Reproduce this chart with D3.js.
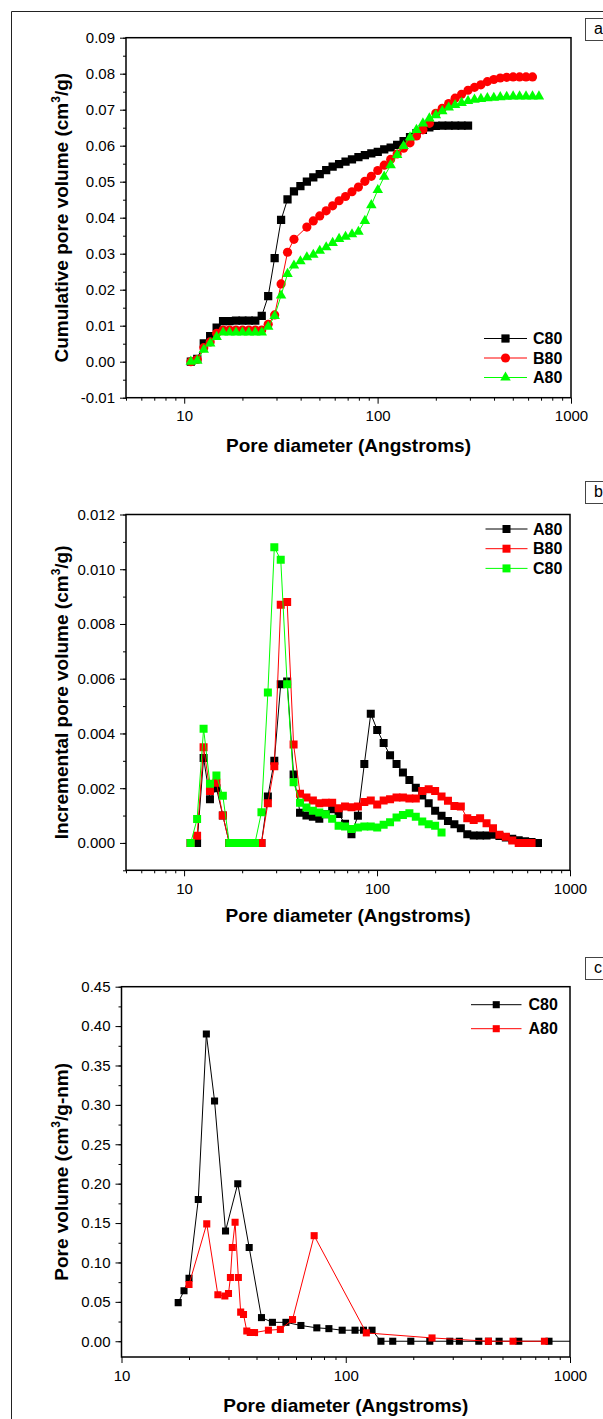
<!DOCTYPE html>
<html><head><meta charset="utf-8">
<script src="https://cdn.jsdelivr.net/npm/d3@7/dist/d3.min.js"></script>
<style>
body{margin:0;background:#fff}
svg{display:block}
</style>
</head><body>
<svg id="fig" width="603" height="1419"></svg>
<script>
// ---------------- DATA ----------------
// Pore diameters (Angstroms) used by panels a and b
const diamAB = [10.82,11.68,12.62,13.62,14.71,15.88,17.15,18.52,20.00,21.59,23.31,25.17,27.18,29.35,31.69,34.21,36.94,39.89,43.07,46.50,50.21,54.22,58.54,63.22,68.26,73.70,79.59,85.93,92.79,100.2,108.2,116.8,126.2,136.2,147.1,158.8,171.5,185.2,200.0,215.9,233.1,251.7,271.8,293.5,316.9,342.1,369.4,398.9,430.7,465.0,502.1,542.2,585.4,632.2,682.6];

// Panel a: cumulative pore volume (cm3/g)
const cumC80 = [0,0.0008,0.0051,0.0071,0.0095,0.0113,0.0113,0.0114,0.0114,0.0114,0.0114,0.0127,0.0182,0.0288,0.0394,0.0451,0.0473,0.0488,0.0500,0.0512,0.0521,0.0532,0.0542,0.0549,0.0556,0.0562,0.0568,0.0574,0.0579,0.0583,0.0590,0.0595,0.0602,0.0613,0.0624,0.0635,0.0644,0.0651,0.0655,0.0656,0.0656,0.0656,0.0656,0.0656];
const cumB80 = [0,0.0006,0.0039,0.0055,0.0079,0.0088,0.0088,0.0088,0.0088,0.0088,0.0088,0.0088,0.0104,0.0130,0.0216,0.0304,0.0340,null,0.0374,0.0391,0.0405,0.0419,0.0433,0.0447,0.0459,0.0472,0.0485,0.0501,0.0515,0.0531,0.0546,0.0562,0.0577,0.0593,0.0608,0.0627,0.0644,0.0662,0.0690,0.0704,0.0717,0.0732,0.0743,0.0754,0.0762,0.0769,0.0778,0.0784,0.0788,0.0790,0.0791,0.0791,0.0791,0.0791];
const cumA80 = [0,0.0003,0.0033,0.0051,0.0069,0.0081,0.0081,0.0081,0.0081,0.0081,0.0081,0.0081,0.0097,0.0127,0.0184,0.0244,0.0267,0.0279,0.0290,0.0297,0.0308,0.0318,0.0330,0.0341,0.0347,0.0354,0.0361,0.0391,0.0435,0.0477,0.0514,0.0546,0.0574,0.0599,0.0623,0.0644,0.0662,0.0676,0.0685,0.0696,0.0706,0.0713,0.0719,0.0724,0.0728,0.0730,0.0732,0.0733,0.0735,0.0736,0.0737,0.0737,0.0737,0.0737,0.0737];

// Panel b: incremental pore volume (cm3/g)
const incA80 = [0,0,0.0031,0.0016,0.0020,0.0010,0,0,0,0,0,0,0.0017,0.0030,0.0058,0.0059,0.0025,0.0011,0.0010,0.00096,0.00088,0.00105,0.00123,0.00106,0.0007,0.00032,0.00099,0.00288,0.00472,0.00413,0.00365,0.0032,0.00288,0.00257,0.0023,0.00202,0.00173,0.00145,0.00118,0.00099,0.0008,0.00068,0.00054,0.00032,0.00027,0.00027,0.00027,0.0003,0.00025,0.0002,0.00015,0.0001,0.00006,0.00003,0];
const incB80 = [0,0.00026,0.0035,0.0019,0.0022,0.0010,0,0,0,0,0,0,0.00145,0.0028,0.0087,0.0088,0.0036,0.0018,0.00166,0.00155,0.00145,0.00147,0.00147,0.00127,0.00133,0.0013,0.00133,0.0015,0.00155,0.0014,0.00155,0.0016,0.00166,0.00166,0.00162,0.00162,0.0019,0.00196,0.0019,0.0017,0.00154,0.00135,0.00133,0.0009,0.00084,0.0009,0.00072,0.00054,0.0003,0.00023,0.00009,0,0,0];
const incC80 = [0,0.00087,0.00417,0.00216,0.00246,0.00172,0,0,0,0,0,0.00112,0.0055,0.0108,0.01035,0.0058,0.00222,0.00147,0.00129,0.00118,0.00111,0.00105,0.00088,0.00063,0.0006,0.00051,0.00056,0.0006,0.0006,0.00056,0.00066,0.00076,0.00093,0.00102,0.00108,0.00096,0.00078,0.00068,0.00063,0.00038];

// Panel c: pore volume (cm3/g-nm)
const psdC80Diam = [17.9,19.0,20.0,22.0,23.9,26.0,29.1,33.0,37.1,42.1,47.1,54.1,63.1,74.3,84.1,96.4,110,120,131,143.5,162,195,237,291,321,392,433,483,591,806,1100];
const psdC80 = [0.049,0.064,0.080,0.180,0.390,0.305,0.140,0.200,0.119,0.030,0.024,0.024,0.020,0.017,0.016,0.014,0.014,0.014,0.014,0,0,0,0,0,0,0,0,0,0,0,0];
const psdA80Diam = [20.0,24.0,26.9,28.9,30.0,30.6,31.2,32.1,33.2,34.0,35.0,36.2,37.5,39.2,45.2,51.1,57.9,72.3,123.5,242.5,432.7,557,769];
const psdA80 = [0.072,0.149,0.059,0.0575,0.0605,0.081,0.119,0.151,0.081,0.037,0.034,0.013,0.011,0.011,0.014,0.015,0.0275,0.134,0.0106,0.0042,0,0,0];

// Tick labels
const xTicksAB = [10,100,1000];
const xTicksC = [10,100,1000];
const yTicksA = [-0.01,0,0.01,0.02,0.03,0.04,0.05,0.06,0.07,0.08,0.09];
const yTicksB = [0,0.002,0.004,0.006,0.008,0.010,0.012];
const yTicksC = [0,0.05,0.10,0.15,0.20,0.25,0.30,0.35,0.40,0.45];

// ---------------- DRAWING ----------------
const FONT = '"Liberation Sans", Arial, Helvetica, sans-serif';
const svg = d3.select('#fig').attr('font-family', FONT);

// outer figure frame (left and top edges visible)
svg.append('path').attr('d','M11.5,1419V11.5H603').attr('fill','none').attr('stroke','#222').attr('stroke-width',1);

function letterBox(letter, top){
  svg.append('rect').attr('x',585.5).attr('y',top+0.5).attr('width',30).attr('height',22)
    .attr('fill','#fff').attr('stroke','#444').attr('stroke-width',1);
  svg.append('text').attr('x',594).attr('y',top+16).attr('font-size',16).attr('fill','#000').text(letter);
}

function logMinor(lo, hi){
  const v=[];
  for(let dec=1; dec<=1000; dec*=10){
    for(let k=2;k<=9;k++){ const t=k*dec; if(t>=lo-1e-9 && t<=hi+1e-9) v.push(t); }
  }
  return v;
}

function drawPanel(p){
  const x = d3.scaleLog().domain(p.xDomain).range([p.left,p.right]);
  const y = d3.scaleLinear().domain(p.yDomain).range([p.bottom,p.top]);
  const g = svg.append('g');
  const clipId = 'clip-'+p.id;
  svg.append('clipPath').attr('id',clipId).append('rect')
    .attr('x',p.left).attr('y',p.top).attr('width',p.right-p.left).attr('height',p.bottom-p.top);

  function styleAxis(sel){
    sel.select('.domain').remove();
    sel.selectAll('line').attr('stroke','#000').attr('stroke-width',1);
    sel.selectAll('text').attr('font-size',15).attr('font-family',FONT).attr('fill','#000');
  }
  // x axis minor + major
  g.append('g').attr('transform',`translate(0,${p.bottom})`)
    .call(d3.axisBottom(x).tickValues(logMinor(p.xDomain[0],p.xDomain[1])).tickSize(3).tickFormat(()=>''))
    .call(styleAxis);
  g.append('g').attr('transform',`translate(0,${p.bottom})`)
    .call(d3.axisBottom(x).tickValues(p.xTicks).tickSize(6).tickPadding(7).tickFormat(d=>String(d)))
    .call(styleAxis);
  // y axis minor + major
  g.append('g').attr('transform',`translate(${p.left},0)`)
    .call(d3.axisLeft(y).tickValues(p.yMinor).tickSize(3).tickFormat(()=>''))
    .call(styleAxis);
  g.append('g').attr('transform',`translate(${p.left},0)`)
    .call(d3.axisLeft(y).tickValues(p.yTicks).tickSize(6).tickPadding(5).tickFormat(d=>d.toFixed(p.dec)))
    .call(styleAxis);

  // plot frame
  g.append('rect').attr('x',p.left).attr('y',p.top).attr('width',p.right-p.left).attr('height',p.bottom-p.top)
    .attr('fill','none').attr('stroke','#000').attr('stroke-width',1.5);

  // series
  const dg = g.append('g').attr('clip-path',`url(#${clipId})`);
  p.series.forEach(s=>{
    const pts = s.xs.map((d,i)=>({x:d,y:s.ys[i]})).filter(d=>d.y!=null && d.x!=null);
    dg.append('path').datum(pts)
      .attr('d', d3.line().x(d=>x(d.x)).y(d=>y(d.y)))
      .attr('fill','none').attr('stroke',s.color).attr('stroke-width',1);
    const sym = d3.symbol().type(s.symbol).size(s.size);
    dg.selectAll(null).data(pts).enter().append('path')
      .attr('d', sym)
      .attr('transform', d=>`translate(${x(d.x)},${y(d.y)})`)
      .attr('fill', s.color);
  });

  // legend
  const L = p.legend;
  p.series.slice().sort((a,b)=>a.legendOrder-b.legendOrder).forEach((s,i)=>{
    const ly = L.y + i*L.dy;
    g.append('line').attr('x1',L.x1).attr('x2',L.x2).attr('y1',ly).attr('y2',ly).attr('stroke',s.color).attr('stroke-width',1);
    g.append('path').attr('d', d3.symbol().type(s.symbol).size(s.size)())
      .attr('transform',`translate(${(L.x1+L.x2)/2},${ly})`).attr('fill',s.color);
    g.append('text').attr('x',L.tx).attr('y',ly).attr('dy','0.36em')
      .attr('font-size',16).attr('font-weight','bold').attr('fill','#000').text(s.name);
  });

  // axis titles
  g.append('text').attr('x',(p.left+p.right)/2).attr('y',p.xTitleY)
    .attr('text-anchor','middle').attr('font-size',19).attr('font-weight','bold').attr('fill','#000')
    .text('Pore diameter (Angstroms)');
  const yt = g.append('text').attr('transform',`translate(68,${(p.top+p.bottom)/2}) rotate(-90)`)
    .attr('text-anchor','middle').attr('font-size',19).attr('font-weight','bold').attr('fill','#000');
  yt.append('tspan').text(p.yTitle[0]);
  yt.append('tspan').attr('font-size',12).attr('dy',-8).text('3');
  yt.append('tspan').attr('dy',8).text(p.yTitle[1]);
}

const sq = d3.symbolSquare, ci = d3.symbolCircle, tri = d3.symbolTriangle;

drawPanel({
  id:'a', left:126, right:571, top:37.7, bottom:397.7,
  xDomain:[5,1000], yDomain:[-0.01,0.09], xTicks:xTicksAB, yTicks:yTicksA, dec:2,
  yMinor:d3.range(-0.01,0.0901,0.005),
  xTitleY:452, yTitle:['Cumulative pore volume (cm','/g)'],
  legend:{x1:484,x2:527,tx:533,y:338.5,dy:19.5},
  series:[
    {name:'C80', xs:diamAB, ys:cumC80, color:'#000000', symbol:sq, size:68, legendOrder:0},
    {name:'B80', xs:diamAB, ys:cumB80, color:'#ff0000', symbol:ci, size:66, legendOrder:1},
    {name:'A80', xs:diamAB, ys:cumA80, color:'#00ff00', symbol:tri, size:48, legendOrder:2}
  ]
});
letterBox('a',18);

drawPanel({
  id:'b', left:126, right:570, top:514.5, bottom:870.3,
  xDomain:[5,1000], yDomain:[-0.001,0.012], xTicks:xTicksAB, yTicks:yTicksB, dec:3,
  yMinor:d3.range(-0.001,0.01201,0.001),
  xTitleY:922, yTitle:['Incremental pore volume (cm','/g)'],
  legend:{x1:485.5,x2:527.5,tx:533,y:529,dy:19.7},
  series:[
    {name:'A80', xs:diamAB, ys:incA80, color:'#000000', symbol:sq, size:64, legendOrder:0},
    {name:'B80', xs:diamAB, ys:incB80, color:'#ff0000', symbol:sq, size:64, legendOrder:1},
    {name:'C80', xs:diamAB, ys:incC80, color:'#00ff00', symbol:sq, size:64, legendOrder:2}
  ]
});
letterBox('b',481);

drawPanel({
  id:'c', left:121.5, right:570, top:986.7, bottom:1357,
  xDomain:[10,1000], yDomain:[-0.02,0.45], xTicks:xTicksC, yTicks:yTicksC, dec:2,
  yMinor:d3.range(0,0.4501,0.025),
  xTitleY:1412, yTitle:['Pore volume (cm','/g-nm)'],
  legend:{x1:471,x2:521.5,tx:528.5,y:1004.7,dy:24},
  series:[
    {name:'C80', xs:psdC80Diam, ys:psdC80, color:'#000000', symbol:sq, size:50, legendOrder:0},
    {name:'A80', xs:psdA80Diam, ys:psdA80, color:'#ff0000', symbol:sq, size:50, legendOrder:1}
  ]
});
letterBox('c',957);
</script>
</body></html>
